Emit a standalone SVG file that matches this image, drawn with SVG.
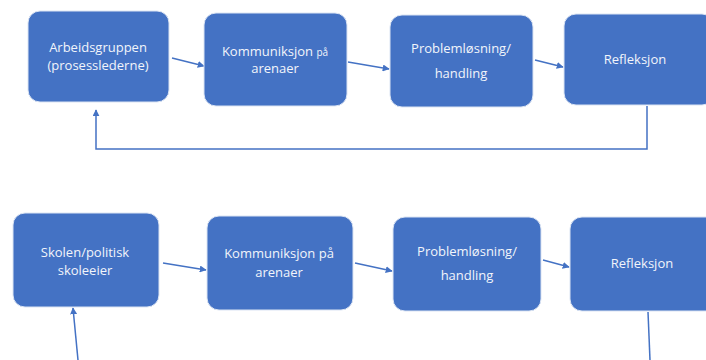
<svg xmlns="http://www.w3.org/2000/svg" width="706" height="360" viewBox="0 0 706 360">
<style>
.box{fill:#4472C4;stroke:#dbe4f3;stroke-width:1}
.t{font-family:"Open Sans","Noto Sans",sans-serif;font-size:13px;fill:#f2f5fb;text-anchor:middle}
.s{font-size:10px}
.c{fill:none;stroke:#4472C4;stroke-width:1.5}
</style>
<defs>
<marker id="ah" viewBox="0 0 10 10" refX="9" refY="5" markerWidth="7" markerHeight="7" markerUnits="userSpaceOnUse" orient="auto">
<path d="M0,0 L10,5 L0,10 z" fill="#4472C4"/>
</marker>
</defs>
<rect width="706" height="360" fill="#ffffff"/>
<g id="connectors">
<line class="c" x1="172" y1="58" x2="204" y2="66" marker-end="url(#ah)"/>
<line class="c" x1="348" y1="62" x2="389" y2="69" marker-end="url(#ah)"/>
<line class="c" x1="535" y1="60" x2="563" y2="67" marker-end="url(#ah)"/>
<polyline class="c" points="647,106 647,149 96,149 96,110" marker-end="url(#ah)"/>
<line class="c" x1="163" y1="263" x2="206" y2="270" marker-end="url(#ah)"/>
<line class="c" x1="355" y1="263" x2="392" y2="271" marker-end="url(#ah)"/>
<line class="c" x1="543" y1="260" x2="569" y2="267" marker-end="url(#ah)"/>
<line class="c" x1="648" y1="312" x2="650" y2="360"/>
<line class="c" x1="78" y1="360" x2="73" y2="308" marker-end="url(#ah)"/>
</g>
<g id="n1"><rect class="box" x="28" y="11" width="141" height="91" rx="12"/>
<text class="t" x="98" y="52">Arbeidsgruppen</text><text class="t" x="98" y="70">(prosesslederne)</text></g>
<g id="n2"><rect class="box" x="204" y="13" width="143" height="93" rx="12"/>
<text class="t" x="275" y="56">Kommuniksjon <tspan class="s">på</tspan></text><text class="t" x="275" y="73">arenaer</text></g>
<g id="n3"><rect class="box" x="390" y="15" width="143" height="92" rx="12"/>
<text class="t" x="461" y="53">Problemløsning/</text><text class="t" x="461" y="78">handling</text></g>
<g id="n4"><rect class="box" x="564" y="14" width="150" height="91" rx="12"/>
<text class="t" x="635" y="64">Refleksjon</text></g>
<g id="n5"><rect class="box" x="13" y="213" width="146" height="94" rx="12"/>
<text class="t" x="85" y="257">Skolen/politisk</text><text class="t" x="85" y="275">skoleeier</text></g>
<g id="n6"><rect class="box" x="207" y="216" width="146" height="94" rx="12"/>
<text class="t" x="279" y="258">Kommuniksjon på</text><text class="t" x="279" y="277">arenaer</text></g>
<g id="n7"><rect class="box" x="393" y="217" width="148" height="94" rx="12"/>
<text class="t" x="467" y="256">Problemløsning/</text><text class="t" x="467" y="280">handling</text></g>
<g id="n8"><rect class="box" x="570" y="217" width="150" height="94" rx="12"/>
<text class="t" x="642" y="268">Refleksjon</text></g>
</svg>
